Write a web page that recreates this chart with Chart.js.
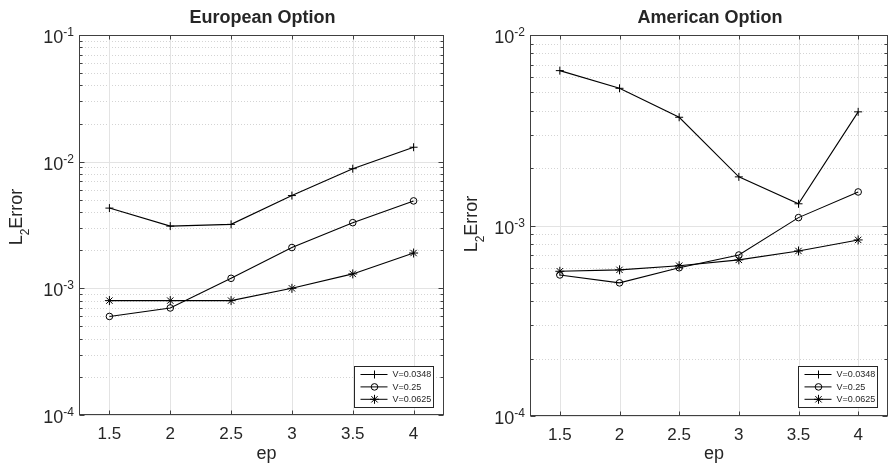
<!doctype html>
<html lang="en">
<head>
<meta charset="utf-8">
<title>L2 Error</title>
<script src="https://cdn.jsdelivr.net/npm/chart.js"></script>
<style>
  body { margin: 0; background: #fff; }
  .panel { position: absolute; top: 0; height: 465px; }
</style>
</head>
<body>
<div class="panel" style="left:0;width:445px"><canvas id="euro"></canvas></div>
<div class="panel" style="left:445px;width:444px"><canvas id="amer"></canvas></div>
<script>
// values
var epValues = [1.5, 2, 2.5, 3, 3.5, 4];
var xTickLabels = ['1.5', '2', '2.5', '3', '3.5', '4'];
var seriesNames = ['V=0.0348', 'V=0.25', 'V=0.0625'];

var euroV0348 = [4.3e-3, 3.1e-3, 3.2e-3, 5.4e-3, 8.8e-3, 1.3e-2];
var euroV25   = [6.0e-4, 7.0e-4, 1.2e-3, 2.1e-3, 3.3e-3, 4.9e-3];
var euroV0625 = [8.0e-4, 8.0e-4, 8.0e-4, 1.0e-3, 1.3e-3, 1.9e-3];

var amerV0348 = [6.5e-3, 5.25e-3, 3.7e-3, 1.8e-3, 1.3e-3, 3.95e-3];
var amerV25   = [5.5e-4, 5.0e-4, 6.0e-4, 7.0e-4, 1.1e-3, 1.5e-3];
var amerV0625 = [5.75e-4, 5.85e-4, 6.15e-4, 6.6e-4, 7.35e-4, 8.4e-4];

var euroExps = [-4, -3, -2, -1];
var amerExps = [-4, -3, -2];

var FONT = '"Liberation Sans", Arial, Helvetica, sans-serif';
var TXT = '#262626';
var markers = [
  { style: 'cross', radius: 4 },
  { style: 'circle', radius: 3.3 },
  { style: 'star', radius: 4.5 }
];

function toPoints(vals) {
  return vals.map(function (v, i) { return { x: epValues[i], y: v }; });
}

function drawMarker(ctx, m, x, y) {
  ctx.strokeStyle = '#000';
  ctx.fillStyle = 'rgba(0,0,0,0)';
  ctx.lineWidth = 1;
  if (Chart.helpers && Chart.helpers.drawPoint) {
    Chart.helpers.drawPoint(ctx, { pointStyle: m.style, radius: m.radius, rotation: 0, borderWidth: 1 }, x, y);
  }
}

function makePlugin(cfg) {
  return {
    id: 'matlabLook',
    beforeDatasetsDraw: function (chart) {
      var ctx = chart.ctx, a = chart.chartArea;
      var xs = chart.scales.x, ys = chart.scales.y;
      ctx.save();
      ctx.lineWidth = 1;
      // minor dotted
      ctx.strokeStyle = '#d4d4d4';
      ctx.setLineDash([1, 2]);
      for (var e = cfg.exps[0]; e < cfg.exps[cfg.exps.length - 1]; e++) {
        for (var m = 2; m <= 9; m++) {
          var py = Math.round(ys.getPixelForValue(m * Math.pow(10, e))) + 0.5;
          ctx.beginPath(); ctx.moveTo(a.left, py); ctx.lineTo(a.right, py); ctx.stroke();
        }
      }
      // major solid
      ctx.setLineDash([]);
      ctx.strokeStyle = '#e3e3e3';
      cfg.exps.forEach(function (e) {
        var py = Math.round(ys.getPixelForValue(Math.pow(10, e))) + 0.5;
        ctx.beginPath(); ctx.moveTo(a.left, py); ctx.lineTo(a.right, py); ctx.stroke();
      });
      epValues.forEach(function (v) {
        var px = Math.round(xs.getPixelForValue(v)) + 0.5;
        ctx.beginPath(); ctx.moveTo(px, a.top); ctx.lineTo(px, a.bottom); ctx.stroke();
      });
      ctx.restore();
    },
    afterDraw: function (chart) {
      var ctx = chart.ctx, a = chart.chartArea;
      var xs = chart.scales.x, ys = chart.scales.y;
      ctx.save();
      // box
      ctx.strokeStyle = '#404040';
      ctx.lineWidth = 1;
      var L = Math.round(a.left) + 0.5, R = Math.round(a.right) - 0.5;
      var T = Math.round(a.top) + 0.5, B = Math.round(a.bottom) - 0.5;
      ctx.strokeRect(L, T, R - L, B - T);
      // inward ticks
      ctx.beginPath();
      epValues.forEach(function (v) {
        var px = Math.round(xs.getPixelForValue(v)) + 0.5;
        ctx.moveTo(px, B); ctx.lineTo(px, B - 4);
        ctx.moveTo(px, T); ctx.lineTo(px, T + 4);
      });
      for (var e = cfg.exps[0]; e <= cfg.exps[cfg.exps.length - 1]; e++) {
        for (var m = 1; m <= 9; m++) {
          if (e === cfg.exps[cfg.exps.length - 1] && m > 1) break;
          var py = Math.round(ys.getPixelForValue(m * Math.pow(10, e))) + 0.5;
          var len = m === 1 ? 5 : 3;
          ctx.moveTo(L, py); ctx.lineTo(L + len, py);
          ctx.moveTo(R, py); ctx.lineTo(R - len, py);
        }
      }
      ctx.stroke();

      // y tick labels 10^e
      ctx.fillStyle = TXT;
      ctx.textAlign = 'left';
      ctx.textBaseline = 'alphabetic';
      cfg.exps.forEach(function (e) {
        var py = ys.getPixelForValue(Math.pow(10, e));
        ctx.font = '18px ' + FONT;
        var wb = ctx.measureText('10').width;
        ctx.font = '12px ' + FONT;
        var ex = '-' + Math.abs(e);
        var we = ctx.measureText(ex).width;
        var x0 = a.left - 5 - wb - we;
        ctx.font = '18px ' + FONT;
        ctx.fillText('10', x0, py + 8);
        ctx.font = '12px ' + FONT;
        ctx.fillText(ex, x0 + wb, py + 1);
      });

      // title
      ctx.textAlign = 'center';
      ctx.font = 'bold 18px ' + FONT;
      ctx.fillText(cfg.title, (a.left + a.right) / 2 + 1, 23);

      // x axis title
      ctx.font = '18px ' + FONT;
      ctx.fillText('ep', (a.left + a.right) / 2 + 5, 459);

      // y axis title L_2 Error
      ctx.save();
      ctx.translate(cfg.yLabelX, cfg.yLabelY);
      ctx.rotate(-Math.PI / 2);
      ctx.textAlign = 'left';
      ctx.font = '18px ' + FONT;
      var wL = ctx.measureText('L').width, wE = ctx.measureText('Error').width;
      ctx.font = '12px ' + FONT;
      var w2 = ctx.measureText('2').width;
      var s = -(wL + w2 + wE) / 2;
      ctx.font = '18px ' + FONT;
      ctx.fillText('L', s, 0);
      ctx.font = '12px ' + FONT;
      ctx.fillText('2', s + wL, 7);
      ctx.font = '18px ' + FONT;
      ctx.fillText('Error', s + wL + w2, 0);
      ctx.restore();

      // legend
      var bx = Math.round(a.right) - 90 + 0.5, by = 366.5, bw = 79, bh = 41;
      ctx.fillStyle = '#fff';
      ctx.fillRect(bx, by, bw, bh);
      ctx.strokeStyle = '#262626';
      ctx.lineWidth = 1;
      ctx.strokeRect(bx, by, bw, bh);
      seriesNames.forEach(function (name, i) {
        var ry = by + 8 + i * 12.4;
        ctx.strokeStyle = '#000';
        ctx.lineWidth = 1;
        ctx.beginPath(); ctx.moveTo(bx + 6, ry); ctx.lineTo(bx + 33, ry); ctx.stroke();
        drawMarker(ctx, markers[i], bx + 20, ry);
        ctx.fillStyle = TXT;
        ctx.font = '9px ' + FONT;
        ctx.textAlign = 'left';
        ctx.textBaseline = 'middle';
        ctx.fillText(name, bx + 38, ry + 0.5);
      });
      ctx.restore();
    }
  };
}

function makeChart(id, title, series, exps, geom) {
  var datasets = series.map(function (vals, i) {
    return {
      label: seriesNames[i],
      data: toPoints(vals),
      borderColor: '#000',
      borderWidth: 1.1,
      backgroundColor: 'rgba(0,0,0,0)',
      pointStyle: markers[i].style,
      pointRadius: markers[i].radius,
      pointBorderColor: '#000',
      pointBackgroundColor: 'rgba(0,0,0,0)',
      pointBorderWidth: 1,
      tension: 0
    };
  });
  return new Chart(document.getElementById(id), {
    type: 'line',
    data: { datasets: datasets },
    options: {
      responsive: true,
      maintainAspectRatio: false,
      animation: false,
      events: [],
      layout: { autoPadding: false, padding: { top: 35, right: geom.right, left: 0, bottom: 0 } },
      plugins: { legend: { display: false }, tooltip: { enabled: false } },
      scales: {
        x: {
          type: 'linear',
          min: 1.25,
          max: 4.25,
          grid: { display: false, drawTicks: false },
          border: { display: false },
          afterBuildTicks: function (scale) {
            scale.ticks = epValues.map(function (v) { return { value: v }; });
          },
          afterFit: function (scale) {
            scale.height = geom.xHeight;
            scale.paddingLeft = 0;
            scale.paddingRight = 0;
          },
          ticks: {
            padding: 9,
            color: TXT,
            font: { family: FONT, size: 17 },
            maxRotation: 0,
            callback: function (v) {
              var i = epValues.indexOf(v);
              return i >= 0 ? xTickLabels[i] : '';
            }
          }
        },
        y: {
          type: 'logarithmic',
          min: Math.pow(10, exps[0]),
          max: Math.pow(10, exps[exps.length - 1]),
          grid: { display: false, drawTicks: false },
          border: { display: false },
          ticks: { display: false },
          afterFit: function (scale) {
            scale.width = geom.yWidth;
            scale.paddingTop = 0;
            scale.paddingBottom = 0;
          }
        }
      }
    },
    plugins: [makePlugin({ title: title, exps: exps, yLabelX: geom.yLabelX, yLabelY: geom.yLabelY })]
  });
}

makeChart('euro', 'European Option', [euroV0348, euroV25, euroV0625], euroExps,
  { right: 1, xHeight: 50, yWidth: 79, yLabelX: 22, yLabelY: 217 });
makeChart('amer', 'American Option', [amerV0348, amerV25, amerV0625], amerExps,
  { right: 1, xHeight: 49, yWidth: 85, yLabelX: 32, yLabelY: 224 });
</script>
</body>
</html>
